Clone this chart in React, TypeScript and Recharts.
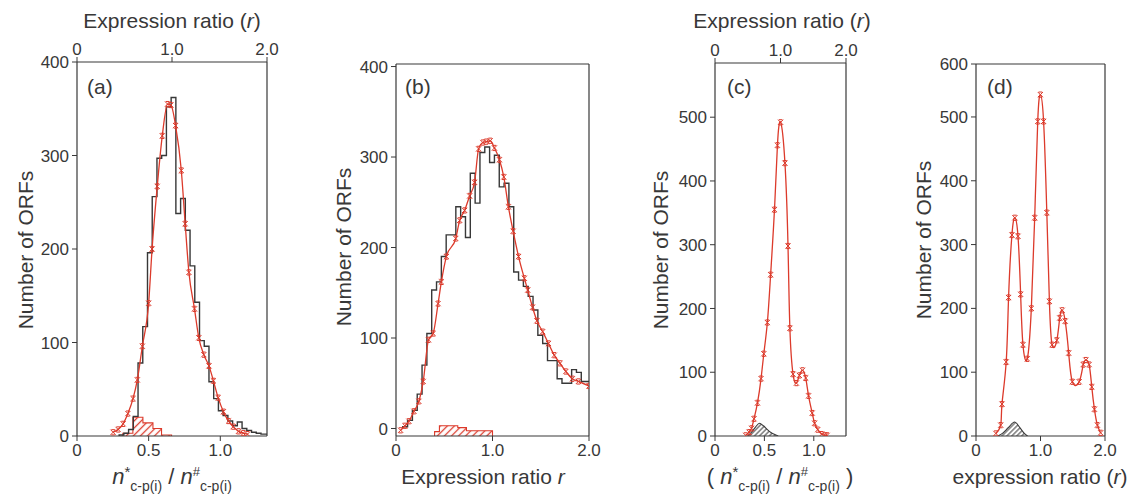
import React from 'react';
import { ComposedChart, Line, Area, XAxis, YAxis, Label } from 'recharts';

const W = 1131;
const H = 495;
const RED = '#dc3a2b';
const INK = '#383838';
const FONT = '"Liberation Sans", Arial, Helvetica, sans-serif';

// ---------- Panel (a) ----------
const aHistEdges = [0.294, 0.327, 0.36, 0.393, 0.426, 0.459, 0.492, 0.525, 0.558, 0.591, 0.624, 0.657, 0.69, 0.723, 0.756, 0.789, 0.822, 0.855, 0.888, 0.921, 0.954, 0.987, 1.02, 1.053, 1.086, 1.119, 1.152, 1.185, 1.218, 1.251, 1.284, 1.326];
const aHistCounts = [1, 3, 7, 21, 78, 117, 196, 256, 297, 300, 352, 362, 238, 254, 220, 182, 143, 102, 96, 58, 40, 27, 22, 16, 11, 15, 8, 6, 4, 3, 2];
const aCurveX = [0.252, 0.287, 0.322, 0.355, 0.391, 0.421, 0.456, 0.5, 0.524, 0.56, 0.595, 0.632, 0.655, 0.688, 0.728, 0.755, 0.781, 0.82, 0.85, 0.885, 0.921, 0.952, 0.985, 1.022, 1.058, 1.09, 1.127, 1.16, 1.19];
const aCurveY = [4, 7, 13, 24, 40, 60, 96, 142, 200, 267, 321, 355, 354, 332, 284, 227, 175, 136, 105, 87, 75, 59, 41, 26, 16, 10, 5, 3, 2];
const aHatchEdges = [0.32, 0.39, 0.46, 0.53, 0.59, 0.66];
const aHatchCounts = [3, 20, 14, 8, 1];
const aXTicks = [0, 0.5, 1.0];
const aYTicks = [0, 100, 200, 300, 400];

// ---------- Panel (b) ----------
const bHistEdges = [0.07, 0.12, 0.17, 0.22, 0.27, 0.32, 0.37, 0.42, 0.47, 0.52, 0.57, 0.62, 0.67, 0.72, 0.77, 0.82, 0.87, 0.92, 0.97, 1.02, 1.07, 1.12, 1.17, 1.22, 1.27, 1.32, 1.37, 1.42, 1.47, 1.52, 1.57, 1.62, 1.67, 1.72, 1.77, 1.82, 1.87, 1.92, 2.0];
const bHistCounts = [2, 9, 20, 38, 70, 105, 153, 162, 190, 214, 214, 245, 234, 211, 282, 249, 305, 311, 294, 302, 267, 271, 245, 173, 164, 157, 146, 131, 103, 94, 75, 75, 55, 50, 50, 65, 62, 52];
const bCurveX = [0.048, 0.093, 0.134, 0.186, 0.237, 0.282, 0.337, 0.385, 0.436, 0.47, 0.522, 0.619, 0.66, 0.711, 0.763, 0.814, 0.856, 0.9, 0.935, 0.976, 1.02, 1.072, 1.117, 1.165, 1.214, 1.27, 1.33, 1.365, 1.415, 1.46, 1.52, 1.58, 1.64, 1.7, 1.76, 1.828, 1.89, 2.0];
const bCurveY = [-2, 3, 8, 19, 30, 52, 98, 105, 138, 162, 190, 210, 230, 241, 257, 272, 309, 316, 317, 318, 310, 297, 278, 245, 218, 190, 166, 153, 134, 119, 107, 94, 81, 72, 63, 55, 52, 47];
const bHatchEdges = [0.4, 0.45, 0.64, 0.73, 1.0];
const bHatchCounts = [-3.5, 3, 1, -2.5];
const bXTicks = [0, 1, 2];
const bYTicks = [0, 100, 200, 300, 400];

// ---------- Panel (c) ----------
const cCurveX = [0.31, 0.345, 0.37, 0.395, 0.43, 0.466, 0.494, 0.53, 0.563, 0.602, 0.632, 0.664, 0.708, 0.739, 0.758, 0.79, 0.824, 0.854, 0.886, 0.918, 0.947, 0.984, 1.008, 1.04, 1.08, 1.115, 1.135];
const cCurveY = [1, 6, 12, 27, 52, 90, 129, 178, 253, 355, 456, 492, 428, 298, 169, 97, 83, 95, 103, 91, 63, 36, 20, 10, 3, 1, 1];
const cBgX = [0.33, 0.37, 0.41, 0.45, 0.49, 0.53, 0.57, 0.61, 0.64];
const cBgY = [0, 6, 14, 20, 16, 10, 5, 2, 0];
const cXTicks = [0, 0.5, 1.0];
const cYTicks = [0, 100, 200, 300, 400, 500];

// ---------- Panel (d) ----------
const dCurveX = [0.308, 0.383, 0.403, 0.468, 0.505, 0.557, 0.603, 0.651, 0.692, 0.728, 0.795, 0.858, 0.91, 0.957, 0.998, 1.048, 1.098, 1.138, 1.18, 1.253, 1.298, 1.336, 1.383, 1.437, 1.494, 1.6, 1.662, 1.703, 1.754, 1.795, 1.836, 1.882, 1.933];
const dCurveY = [4, 17, 50, 116, 217, 315, 342, 313, 222, 143, 121, 200, 342, 493, 535, 493, 350, 211, 143, 150, 185, 197, 180, 130, 85, 85, 112, 119, 112, 77, 42, 17, 5];
const dBgX = [0.34, 0.42, 0.5, 0.6, 0.68, 0.75, 0.8];
const dBgY = [0, 5, 13, 22, 13, 4, 0];
const dXTicks = [0, 1, 2];
const dYTicks = [0, 100, 200, 300, 400, 500, 583];

const topTicks = [0, 1, 2];

type Pt = { x: number; y: number };
const zip = (xs: number[], ys: number[]): Pt[] => xs.map((x, i) => ({ x, y: ys[i] }));
const histPoints = (edges: number[], counts: number[], base: number): Pt[] => {
  const pts: Pt[] = [{ x: edges[0], y: base }];
  counts.forEach((c, i) => pts.push({ x: edges[i], y: c }));
  pts.push({ x: edges[edges.length - 1], y: counts[counts.length - 1] });
  return pts;
};
const closedHist = (edges: number[], counts: number[], base: number): Pt[] => [
  ...histPoints(edges, counts, base),
  { x: edges[edges.length - 1], y: base },
];

const fmt1 = (v: number) => (v === 0 ? '0' : v.toFixed(1));
const fmtD = (v: number) => (v === 583 ? '600' : String(v));

const renderX = (props: any) => {
  const { cx, cy, index } = props;
  if (cx == null || cy == null) return <g key={`n${index}`} />;
  const s = 2.6;
  const c = 1.8;
  return (
    <path
      key={`m${index}`}
      d={`M${cx - s},${cy - s}L${cx + s},${cy + s}M${cx - s},${cy + s}L${cx + s},${cy - s}M${cx - c},${cy - s}H${cx + c}M${cx - c},${cy + s}H${cx + c}`}
      stroke={RED}
      strokeWidth={1}
      fill="none"
    />
  );
};

const txt = { fill: INK, fontFamily: FONT } as const;

const ExprTop = ({ cx }: { cx: number }) => (
  <text x={cx} y={28} textAnchor="middle" fontSize={21} {...txt}>
    Expression ratio (<tspan fontStyle="italic">r</tspan>)
  </text>
);

const NLabel = ({ cx, y, parens }: { cx: number; y: number; parens: boolean }) => (
  <text x={cx} y={y} textAnchor="middle" fontSize={22} {...txt} style={{ whiteSpace: 'pre' }}>
    {parens ? <tspan>{'( '}</tspan> : null}
    <tspan fontStyle="italic">n</tspan>
    <tspan fontSize={15} dy={-7}>*</tspan>
    <tspan fontSize={14} dy={14}>c-p(i)</tspan>
    <tspan dy={-7}>{' / '}</tspan>
    <tspan fontStyle="italic">n</tspan>
    <tspan fontSize={13} dy={-8}>#</tspan>
    <tspan fontSize={14} dy={15}>c-p(i)</tspan>
    <tspan dy={-7}>{parens ? ' )' : ''}</tspan>
  </text>
);

const YTitle = ({ x, y }: { x: number; y: number }) => (
  <text x={x} y={y} transform={`rotate(-90, ${x}, ${y})`} textAnchor="middle" dominantBaseline="central" fontSize={21} {...txt}>
    Number of ORFs
  </text>
);

const Letter = ({ x, s }: { x: number; s: string }) => (
  <text x={x} y={94} fontSize={21} {...txt}>
    {s}
  </text>
);

type PanelProps = {
  L: number;
  R: number;
  T: number;
  B: number;
  xDomain: [number, number];
  xTicks: number[];
  yDomain: [number, number];
  yTicks: number[];
  yFmt?: (v: number) => string;
  hasTop: boolean;
  topTitle?: React.ReactNode;
  bottomTitle: React.ReactNode;
  yTitle: React.ReactNode;
  letter: React.ReactNode;
  hist?: Pt[];
  hatch?: Pt[];
  hatchType: 'stepAfter' | 'monotone';
  hatchFill: string;
  hatchStroke: string;
  curve: Pt[];
  curveType: 'monotone' | 'natural';
};

const axisLine = { stroke: INK, strokeWidth: 1.2 };
const tickStyle = { fill: INK, fontSize: 17, fontFamily: FONT };

function Panel(p: PanelProps) {
  const margin = { left: p.L - 50, right: W - p.R, top: p.T - 30, bottom: H - p.B - 30 };
  // invisible helper series that only gives the top / right frame axes their extent
  const frame = [
    { x: 0, y: p.yDomain[0] },
    { x: 2, y: p.yDomain[1] },
  ];
  return (
    <div style={{ position: 'absolute', left: 0, top: 0 }}>
      <ComposedChart width={W} height={H} margin={margin}>
        <XAxis
          xAxisId="b"
          dataKey="x"
          type="number"
          domain={p.xDomain}
          ticks={p.xTicks}
          tickFormatter={fmt1}
          allowDataOverflow
          height={30}
          axisLine={axisLine}
          tickLine={{ stroke: INK }}
          tickSize={5}
          tickMargin={3}
          tick={tickStyle}
        >
          <Label content={() => p.bottomTitle} />
        </XAxis>
        <XAxis
          xAxisId="t"
          dataKey="x"
          orientation="top"
          type="number"
          domain={[0, 2]}
          ticks={topTicks}
          tickFormatter={fmt1}
          allowDataOverflow
          height={30}
          axisLine={axisLine}
          tickLine={p.hasTop ? { stroke: INK } : false}
          tick={p.hasTop ? tickStyle : false}
          tickSize={5}
          tickMargin={2}
        >
          {p.topTitle ? <Label content={() => p.topTitle} /> : null}
        </XAxis>
        <YAxis
          yAxisId="l"
          type="number"
          domain={p.yDomain}
          ticks={p.yTicks}
          tickFormatter={p.yFmt}
          allowDataOverflow
          width={50}
          axisLine={axisLine}
          tickLine={{ stroke: INK }}
          tickSize={5}
          tickMargin={3}
          tick={tickStyle}
        >
          <Label content={() => p.yTitle} />
        </YAxis>
        <YAxis
          yAxisId="r"
          orientation="right"
          type="number"
          domain={p.yDomain}
          allowDataOverflow
          width={1}
          axisLine={axisLine}
          tickLine={false}
          tick={false}
        >
          <Label content={() => p.letter} />
        </YAxis>
        <Line
          xAxisId="t"
          yAxisId="r"
          data={frame}
          dataKey="y"
          stroke="none"
          dot={false}
          activeDot={false}
          legendType="none"
          isAnimationActive={false}
        />
        {p.hatch ? (
          <Area
            xAxisId="b"
            yAxisId="l"
            data={p.hatch}
            dataKey="y"
            type={p.hatchType}
            baseValue={p.yDomain[0]}
            stroke={p.hatchStroke}
            strokeWidth={1.1}
            fill={p.hatchFill}
            fillOpacity={1}
            dot={false}
            activeDot={false}
            isAnimationActive={false}
          />
        ) : null}
        {p.hist ? (
          <Line
            xAxisId="b"
            yAxisId="l"
            data={p.hist}
            dataKey="y"
            type="stepAfter"
            stroke={INK}
            strokeWidth={1.4}
            dot={false}
            activeDot={false}
            isAnimationActive={false}
          />
        ) : null}
        <Line
          xAxisId="b"
          yAxisId="l"
          data={p.curve}
          dataKey="y"
          type={p.curveType}
          stroke={RED}
          strokeWidth={1.3}
          dot={renderX}
          activeDot={false}
          isAnimationActive={false}
        />
      </ComposedChart>
    </div>
  );
}

export default function App() {
  return (
    <div style={{ position: 'absolute', left: 0, top: 0, width: W, height: H, background: '#fff', overflow: 'hidden' }}>
      <svg width={0} height={0} style={{ position: 'absolute' }}>
        <defs>
          <pattern id="hatchRed" patternUnits="userSpaceOnUse" width={5} height={5} patternTransform="rotate(45)">
            <line x1={2.5} y1={0} x2={2.5} y2={5} stroke={RED} strokeWidth={1.3} />
          </pattern>
          <pattern id="hatchBlack" patternUnits="userSpaceOnUse" width={3.5} height={3.5} patternTransform="rotate(45)">
            <line x1={1.75} y1={0} x2={1.75} y2={3.5} stroke={INK} strokeWidth={1} />
          </pattern>
        </defs>
      </svg>

      <Panel
        L={77}
        R={268}
        T={62}
        B={436}
        xDomain={[0, 1.326]}
        xTicks={aXTicks}
        yDomain={[0, 400]}
        yTicks={aYTicks}
        hasTop
        topTitle={<ExprTop cx={172} />}
        bottomTitle={<NLabel cx={172} y={484} parens={false} />}
        yTitle={<YTitle x={25} y={250} />}
        letter={<Letter x={87} s="(a)" />}
        hist={histPoints(aHistEdges, aHistCounts, 0)}
        hatch={closedHist(aHatchEdges, aHatchCounts, 0)}
        hatchType="stepAfter"
        hatchFill="url(#hatchRed)"
        hatchStroke={RED}
        curve={zip(aCurveX, aCurveY)}
        curveType="monotone"
      />

      <Panel
        L={396}
        R={590}
        T={64}
        B={436}
        xDomain={[0, 2]}
        xTicks={bXTicks}
        yDomain={[-8.3, 402.8]}
        yTicks={bYTicks}
        hasTop={false}
        bottomTitle={
          <text x={483} y={484} textAnchor="middle" fontSize={21} {...txt}>
            Expression ratio <tspan fontStyle="italic">r</tspan>
          </text>
        }
        yTitle={<YTitle x={343} y={247} />}
        letter={<Letter x={405} s="(b)" />}
        hist={histPoints(bHistEdges, bHistCounts, 0)}
        hatch={closedHist(bHatchEdges, bHatchCounts, -8.3)}
        hatchType="stepAfter"
        hatchFill="url(#hatchRed)"
        hatchStroke={RED}
        curve={zip(bCurveX, bCurveY)}
        curveType="monotone"
      />

      <Panel
        L={715}
        R={847}
        T={63}
        B={436}
        xDomain={[0, 1.326]}
        xTicks={cXTicks}
        yDomain={[0, 585]}
        yTicks={cYTicks}
        hasTop
        topTitle={<ExprTop cx={782} />}
        bottomTitle={<NLabel cx={780} y={484} parens />}
        yTitle={<YTitle x={660} y={250} />}
        letter={<Letter x={727} s="(c)" />}
        hatch={zip(cBgX, cBgY)}
        hatchType="monotone"
        hatchFill="url(#hatchBlack)"
        hatchStroke={INK}
        curve={zip(cCurveX, cCurveY)}
        curveType="natural"
      />

      <Panel
        L={976}
        R={1106}
        T={64}
        B={436}
        xDomain={[0, 2]}
        xTicks={dXTicks}
        yDomain={[0, 583]}
        yTicks={dYTicks}
        yFmt={fmtD}
        hasTop={false}
        bottomTitle={
          <text x={1040} y={484} textAnchor="middle" fontSize={21} {...txt}>
            expression ratio (<tspan fontStyle="italic">r</tspan>)
          </text>
        }
        yTitle={<YTitle x={923} y={240} />}
        letter={<Letter x={987} s="(d)" />}
        hatch={zip(dBgX, dBgY)}
        hatchType="monotone"
        hatchFill="url(#hatchBlack)"
        hatchStroke={INK}
        curve={zip(dCurveX, dCurveY)}
        curveType="natural"
      />
    </div>
  );
}
